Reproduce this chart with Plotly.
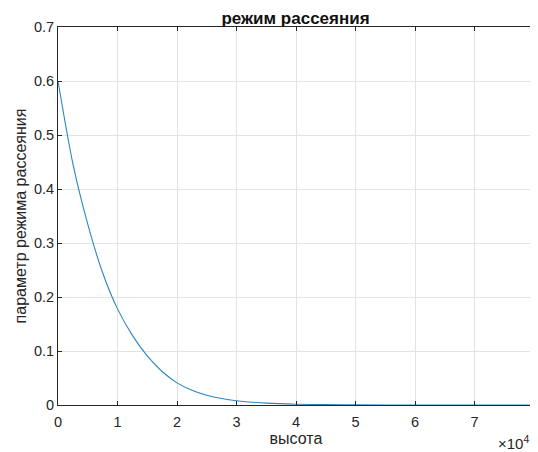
import plotly.graph_objects as go

# height (x, metres) and scattering-mode parameter
height = [0, 2500, 5000, 7500, 10000, 12500, 15000, 17500, 20000, 22500, 25000,
          27500, 30000, 35000, 40000, 45000, 50000, 60000, 70000, 80000]
param = [0.600, 0.447, 0.335, 0.245, 0.178, 0.129, 0.091, 0.062, 0.041, 0.0272,
         0.0180, 0.0119, 0.0079, 0.0035, 0.0015, 0.0007, 0.0003, 0.00006, 0.00001, 0.0]

x_ticks = [0, 10000, 20000, 30000, 40000, 50000, 60000, 70000, 80000]
x_tick_text = ["0", "1", "2", "3", "4", "5", "6", "7", "8"]
y_ticks = [0, 0.1, 0.2, 0.3, 0.4, 0.5, 0.6, 0.7]
y_tick_text = ["0", "0.1", "0.2", "0.3", "0.4", "0.5", "0.6", "0.7"]

FONT = "Liberation Sans, Arial, Helvetica"
TXT = "#262626"

fig = go.Figure()
fig.add_trace(go.Scatter(x=height, y=param, mode="lines",
                         line=dict(color="#2a86c4", width=1.1, shape="spline", smoothing=0.8),
                         showlegend=False, hoverinfo="skip"))

axis_common = dict(showline=True, linecolor=TXT, linewidth=1, mirror="ticks",
                   ticks="inside", ticklen=4, tickcolor=TXT,
                   showgrid=True, gridcolor="#e3e3e3", gridwidth=1,
                   zeroline=False, tickfont=dict(family=FONT, size=14.5, color=TXT))

fig.update_layout(
    width=530, height=444,
    margin=dict(l=50, r=0, t=19, b=47),
    paper_bgcolor="white", plot_bgcolor="white",
    title=dict(text="<b>режим рассеяния</b>", x=0.5425, xanchor="center", y=0.978, yanchor="middle",
               font=dict(family=FONT, size=17, color="#111111")),
    xaxis=dict(range=[0, 80000], tickvals=x_ticks, ticktext=x_tick_text, ticklabelstandoff=4,
               ticklabeloverflow="allow",
               title=dict(text="высота", standoff=2,
                          font=dict(family=FONT, size=16, color=TXT)),
               **axis_common),
    yaxis=dict(range=[0, 0.7], tickvals=y_ticks, ticktext=y_tick_text,
               title=dict(text="параметр режима рассеяния", standoff=3,
                          font=dict(family=FONT, size=16, color=TXT)),
               **axis_common),
    annotations=[dict(text="×10<sup>4</sup>", xref="paper", yref="paper", x=0.993, y=-0.098,
                      xanchor="right", yanchor="middle", showarrow=False,
                      font=dict(family=FONT, size=15, color=TXT))],
)

fig.write_html("out.html")
